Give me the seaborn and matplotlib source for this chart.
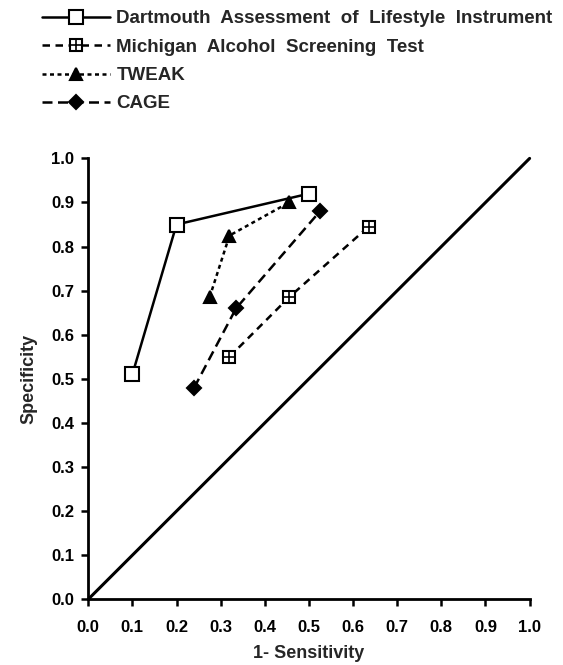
import pandas as pd
import matplotlib
matplotlib.use("Agg")
import matplotlib.pyplot as plt
import seaborn as sns
from matplotlib.lines import Line2D
from matplotlib.legend_handler import HandlerTuple

# valores (1 - sensibilidade, especificidade)
dali_x = [0.10, 0.20, 0.50]
dali_y = [0.51, 0.85, 0.92]
mast_x = [0.32, 0.455, 0.635]
mast_y = [0.55, 0.685, 0.845]
tweak_x = [0.275, 0.32, 0.455]
tweak_y = [0.685, 0.825, 0.90]
cage_x = [0.24, 0.335, 0.525]
cage_y = [0.48, 0.66, 0.88]
diag = [0.0, 1.0]

nomes = ["Dartmouth  Assessment  of  Lifestyle  Instrument",
         "Michigan  Alcohol  Screening  Test",
         "TWEAK",
         "CAGE"]
ticks = [0.0, 0.1, 0.2, 0.3, 0.4, 0.5, 0.6, 0.7, 0.8, 0.9, 1.0]

sns.set_style("ticks")
plt.rcParams['font.family'] = ['Liberation Sans', 'DejaVu Sans']
plt.rcParams['font.weight'] = 'bold'

fig = plt.figure(figsize=(5.63, 6.65), dpi=100)
ax = fig.add_axes([0.1567, 0.0988, 0.784, 0.663])

k = dict(color='black', linewidth=1.8, markeredgecolor='black', markeredgewidth=1.5)

sns.lineplot(x=diag, y=diag, ax=ax, color='black', linewidth=2.2)
sns.lineplot(x=dali_x, y=dali_y, ax=ax, marker='s', markersize=10,
             markerfacecolor='white', linestyle='-', **k)
sns.lineplot(x=mast_x, y=mast_y, ax=ax, marker='s', markersize=8,
             markerfacecolor='white', linestyle=(0, (3.0, 2.2)), **k)
sns.lineplot(x=mast_x, y=mast_y, ax=ax, marker='+', markersize=8, linestyle='none',
             color='black', markeredgecolor='black', markeredgewidth=1.2)
sns.lineplot(x=tweak_x, y=tweak_y, ax=ax, marker='^', markersize=9,
             markerfacecolor='black', linestyle=(0, (1.6, 1.4)), **k)
sns.lineplot(x=cage_x, y=cage_y, ax=ax, marker='D', markersize=7,
             markerfacecolor='black', linestyle=(0, (4.0, 2.2)), **k)

ax.set_xlim(0, 1.0)
ax.set_ylim(0, 1.0)
ax.set_xticks(ticks)
ax.set_yticks(ticks)
ax.set_xticklabels([f"{t:.1f}" for t in ticks], fontsize=12, fontweight='bold')
ax.set_yticklabels([f"{t:.1f}" for t in ticks], fontsize=12, fontweight='bold')
ax.tick_params(direction='out', length=5, width=1.8, colors='black')
ax.tick_params(axis='x', pad=10)
ax.tick_params(axis='y', pad=5)
for s in ['left', 'bottom']:
    ax.spines[s].set_linewidth(2)
    ax.spines[s].set_color('black')
ax.spines['top'].set_visible(False)
ax.spines['right'].set_visible(False)
for ln in ax.lines:
    ln.set_clip_on(False)

ax.set_xlabel("1- Sensitivity", fontsize=13, fontweight='bold', labelpad=7)
ax.set_ylabel("Specificity", fontsize=13, fontweight='bold', labelpad=10)

# legenda montada à mão
h1 = Line2D([], [], marker='s', markersize=10, markerfacecolor='white', linestyle='-', **k)
h2a = Line2D([], [], marker='s', markersize=8, markerfacecolor='white', linestyle=(0, (3.0, 2.2)), **k)
h2b = Line2D([], [], marker='+', markersize=8, linestyle='none', color='black', markeredgewidth=1.2)
h3 = Line2D([], [], marker='^', markersize=9, markerfacecolor='black', linestyle=(0, (1.6, 1.4)), **k)
h4 = Line2D([], [], marker='D', markersize=7, markerfacecolor='black', linestyle=(0, (4.0, 2.2)), **k)
leg = fig.legend([h1, (h2a, h2b), h3, h4], nomes, loc='upper left',
                 bbox_to_anchor=(0.045, 1.010), frameon=False,
                 handler_map={tuple: HandlerTuple(ndivide=1)},
                 handlelength=3.6, handletextpad=0.35, labelspacing=0.6,
                 prop={'size': 13.5, 'weight': 'bold'})

fig.savefig("out.png", dpi=100)
